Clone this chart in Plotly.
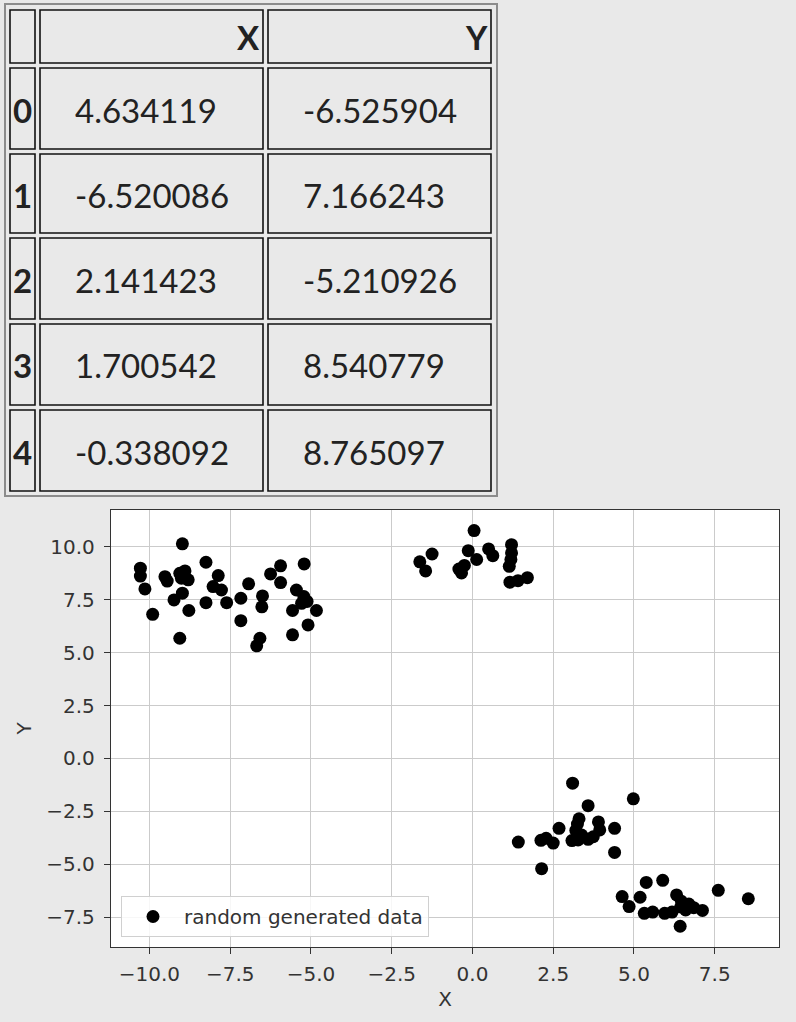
import plotly.graph_objects as go

# ---------------- data ----------------
x_values = [
    4.634119, -6.520086, 2.141423, 1.700542, -0.338092,
    # upper-left group
    -10.28, -10.28, -10.14, -9.90, -9.52, -9.45, -8.98, -9.06, -8.90, -8.80,
    -9.01, -8.98, -9.24, -8.78, -9.06, -8.25, -8.25, -7.87, -8.03, -7.77,
    -7.61, -7.17, -7.17, -6.93, -6.50, -6.58, -6.68, -6.25, -5.94, -5.94,
    -5.21, -5.45, -5.22, -5.12, -5.29, -5.57, -5.57, -4.83, -5.09,
    # upper-middle group
    0.05, -1.25, -1.63, -1.45, -0.42, -0.25, -0.13, 0.13, 0.50, 0.63,
    1.21, 1.21, 1.19, 1.14, 1.16, 1.41,
    # lower-right group A
    3.10, 4.98, 3.58, 1.42, 2.12, 2.28, 2.50, 2.68, 3.30, 3.20,
    3.38, 3.08, 3.27, 3.90, 3.94, 3.74, 3.58, 4.40, 4.40, 3.25,
    # lower-right group B
    4.85, 5.19, 5.38, 5.89, 5.32, 5.58, 5.95, 6.18, 6.32, 6.47,
    6.70, 6.45, 6.85, 7.12, 6.43, 7.61, 8.54, 6.60,
]
y_values = [
    -6.525904, 7.166243, -5.210926, 8.540779, 8.765097,
    # upper-left group
    8.99, 8.62, 8.01, 6.81, 8.59, 8.38, 10.14, 8.75, 8.86, 8.44,
    8.52, 7.81, 7.49, 6.99, 5.68, 9.27, 7.36, 8.64, 8.12, 7.96,
    7.36, 7.57, 6.51, 8.25, 7.68, 5.68, 5.32, 8.72, 9.10, 8.31,
    9.19, 7.96, 7.65, 7.42, 7.33, 6.99, 5.84, 6.99, 6.31,
    # upper-middle group
    10.77, 9.66, 9.29, 8.86, 8.95, 9.12, 9.82, 9.40, 9.90, 9.58,
    10.10, 9.71, 9.40, 9.08, 8.33, 8.40,
    # lower-right group A
    -1.17, -1.91, -2.23, -3.95, -3.87, -3.77, -4.00, -3.30, -2.85, -3.40,
    -3.62, -3.88, -3.85, -3.00, -3.38, -3.70, -3.82, -3.30, -4.44, -3.10,
    # lower-right group B
    -7.00, -6.56, -5.86, -5.76, -7.32, -7.26, -7.32, -7.26, -6.45, -6.75,
    -6.88, -7.02, -7.05, -7.18, -7.93, -6.23, -6.63, -7.16,
]
series_name = "random generated data"
table_columns = ["X", "Y"]
table_rows = 5

x_tickvals = [-10.0, -7.5, -5.0, -2.5, 0.0, 2.5, 5.0, 7.5]
x_ticktext = ["\u221210.0", "\u22127.5", "\u22125.0", "\u22122.5", "0.0", "2.5", "5.0", "7.5"]
y_tickvals = [10.0, 7.5, 5.0, 2.5, 0.0, -2.5, -5.0, -7.5]
y_ticktext = ["10.0", "7.5", "5.0", "2.5", "0.0", "\u22122.5", "\u22125.0", "\u22127.5"]

# ---------------- layout geometry (pixels) ----------------
W, H = 796, 1022
PL, PR, PT, PB = 111, 779, 510, 947  # plot area
BG = "#e9e9e9"


def px_x(px):
    return (px - PL) / (PR - PL)


def px_y(py):
    return (PB - py) / (PB - PT)


fig = go.Figure()
fig.add_trace(go.Scatter(
    x=x_values, y=y_values, mode="markers", name=series_name,
    marker=dict(color="black", size=13, line=dict(width=0)),
    showlegend=True,
))

shapes = []
annotations = []

# table outer frame
shapes.append(dict(type="rect", xref="paper", yref="paper", layer="above",
                   x0=px_x(5), x1=px_x(497), y0=px_y(496), y1=px_y(4),
                   line=dict(color="#8c8c8c", width=2), fillcolor=BG))

col_edges = [(10, 35), (40, 263), (268, 491)]
row_edges = [(10, 63), (68, 149), (154, 233), (238, 319), (324, 405), (410, 491)]
for (r0, r1) in row_edges:
    for (c0, c1) in col_edges:
        shapes.append(dict(type="rect", xref="paper", yref="paper", layer="above",
                           x0=px_x(c0), x1=px_x(c1), y0=px_y(r1), y1=px_y(r0),
                           line=dict(color="#111111", width=1.6), fillcolor=BG))

tfont = dict(family="Lato", size=33, color="#222222")
bfont = dict(family="Lato", size=33, color="#222222", weight="bold")

# header
hy = (row_edges[0][0] + row_edges[0][1]) / 2 + 1
for name, (c0, c1) in zip(table_columns, col_edges[1:]):
    annotations.append(dict(xref="paper", yref="paper", x=px_x(c1 - 1), y=px_y(hy),
                            xanchor="right", yanchor="middle", text=name,
                            showarrow=False, font=bfont))

for i in range(table_rows):
    r0, r1 = row_edges[i + 1]
    cy = (r0 + r1) / 2 + 1
    annotations.append(dict(xref="paper", yref="paper", x=px_x(23), y=px_y(cy),
                            xanchor="center", yanchor="middle", text=str(i),
                            showarrow=False, font=bfont))
    for val, (c0, c1) in zip((x_values[i], y_values[i]), col_edges[1:]):
        annotations.append(dict(xref="paper", yref="paper", x=px_x(c0 + 33), y=px_y(cy),
                                xanchor="left", yanchor="middle", text=f"{val:.6f}",
                                showarrow=False, font=tfont))

axis_font = dict(family="DejaVu Sans", size=20, color="#333333")
common = dict(showgrid=True, gridcolor="#cbcbcb", gridwidth=1.2, zeroline=False,
              showline=True, linecolor="#333333", linewidth=1.4, mirror=True,
              ticks="outside", ticklen=6, tickwidth=1.2, tickcolor="#333333",
              tickfont=axis_font)

fig.update_layout(
    width=W, height=H,
    margin=dict(l=PL, r=W - PR, t=PT, b=H - PB, pad=0),
    paper_bgcolor=BG, plot_bgcolor="white",
    xaxis=dict(range=[-11.19, 9.49], tickvals=x_tickvals, ticktext=x_ticktext,
               ticklabelstandoff=3,
               title=dict(text="X", font=axis_font, standoff=6), **common),
    yaxis=dict(range=[-8.91, 11.74], tickvals=y_tickvals, ticktext=y_ticktext,
               ticklabelstandoff=5,
               title=dict(text="Y", font=axis_font, standoff=9), **common),
    legend=dict(x=px_x(121), y=px_y(937), xanchor="left", yanchor="bottom",
                itemwidth=52,
                bgcolor="rgba(255,255,255,0.85)", bordercolor="#d0d0d0", borderwidth=1,
                font=dict(family="DejaVu Sans", size=20, color="#333333")),
    shapes=shapes, annotations=annotations,
    showlegend=True,
)

fig.write_html(
    "out.html",
    config={"displayModeBar": False},
    post_script="document.body.style.margin='0';document.body.style.background='#e9e9e9';",
)
